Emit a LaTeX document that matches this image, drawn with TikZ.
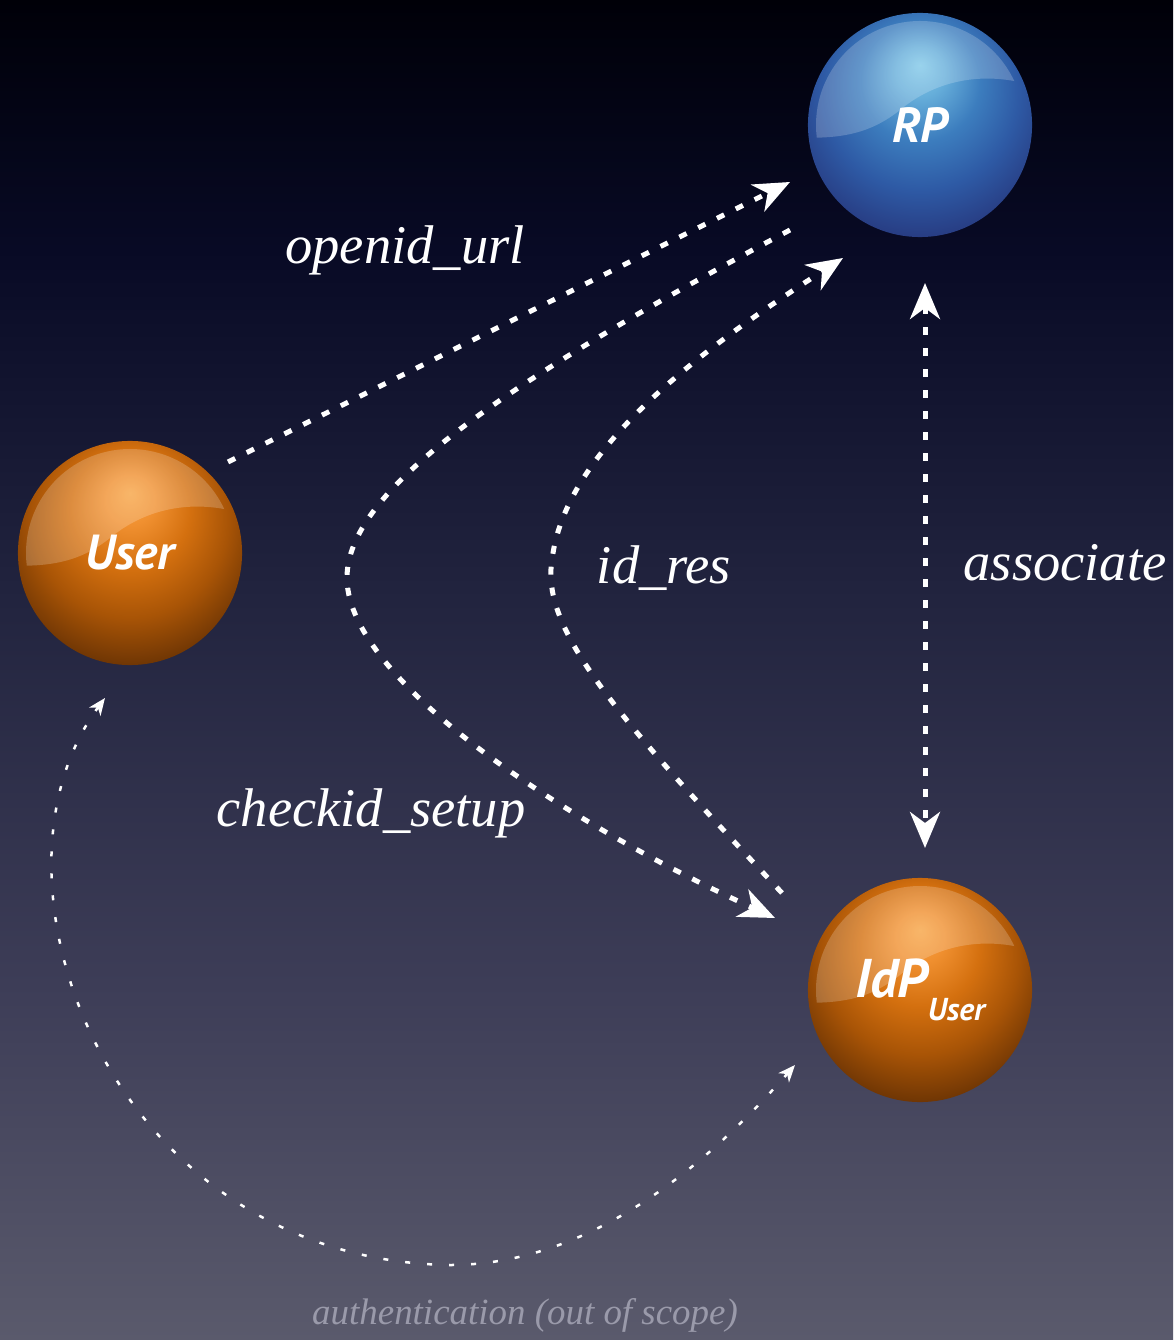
\documentclass[tikz,border=0pt]{standalone}
\usepackage{fontspec}
\usetikzlibrary{arrows.meta}
\newfontfamily\ballfont{PT Sans}
\newfontfamily\labelfont{Liberation Serif}

% Colours
\definecolor{bgA}{HTML}{000008}
\definecolor{bgB}{HTML}{080A25}
\definecolor{bgC}{HTML}{22243F}
\definecolor{bgD}{HTML}{3E3E58}
\definecolor{bgE}{HTML}{5A5A6C}
\definecolor{rpA}{HTML}{80C8E8}
\definecolor{rpB}{HTML}{66AEDA}
\definecolor{rpC}{HTML}{3C7DBE}
\definecolor{rpD}{HTML}{2E5AA5}
\definecolor{rpE}{HTML}{273A80}
\definecolor{rpF}{HTML}{1E2262}
\definecolor{orA}{HTML}{F7A444}
\definecolor{orB}{HTML}{F09030}
\definecolor{orC}{HTML}{D4700F}
\definecolor{orD}{HTML}{A85406}
\definecolor{orE}{HTML}{6A3304}
\definecolor{orF}{HTML}{2E1502}
\definecolor{authGray}{HTML}{9A9AAA}

% Background, dark navy at the top
\pgfdeclareverticalshading{sky}{100bp}{color(0bp)=(bgE); color(25bp)=(bgE); color(37.7bp)=(bgD); color(52.6bp)=(bgC); color(65.7bp)=(bgB); color(75bp)=(bgA); color(100bp)=(bgA)}

% Ball shadings, highlight near the top
\pgfdeclareradialshading{rpball}{\pgfpoint{0bp}{13.4bp}}{color(0bp)=(rpA); color(5.6bp)=(rpB); color(13.4bp)=(rpC); color(22bp)=(rpD); color(31bp)=(rpE); color(38bp)=(rpF); color(50bp)=(rpF)}
\pgfdeclareradialshading{orangeball}{\pgfpoint{0bp}{13.4bp}}{color(0bp)=(orA); color(5.6bp)=(orB); color(13.4bp)=(orC); color(22bp)=(orD); color(31bp)=(orE); color(38bp)=(orF); color(50bp)=(orF)}

\tikzset{
  ball/.style={circle, minimum size=2.24cm, inner sep=0pt, shade, text=white,
    font=\ballfont\bfseries\itshape\fontsize{14}{16}\selectfont},
  msg/.style={white, line width=0.05cm, dash pattern=on 0.08cm off 0.13cm,
    -{Stealth[length=0.36cm, width=0.30cm, inset=0.11cm]}},
  auth/.style={white, line width=0.025cm, dash pattern=on 0.05cm off 0.17cm,
    {Stealth[length=0.17cm, width=0.14cm, inset=0.05cm]}-{Stealth[length=0.17cm, width=0.14cm, inset=0.05cm]}},
  lbl/.style={text=white, font=\labelfont\itshape\fontsize{15.5}{18}\selectfont},
  authlbl/.style={text=authGray, font=\labelfont\itshape\fontsize{10.5}{12}\selectfont}
}

\begin{document}
\begin{tikzpicture}[x=0.01cm, y=-0.01cm]
  % Background
  \useasboundingbox (0,0) rectangle (1173,1340);
  \shade[shading=sky] (0,0) rectangle (1173,1340);

  % Place the balls
  \node[ball, shading=rpball] (RP) at (920,125) {RP};
  \node[ball, shading=orangeball] (User) at (130,553) {User};
  \node[ball, shading=orangeball] (IdP) at (920,990) {\fontsize{15.5}{17}\selectfont IdP\raisebox{-0.42em}{\fontsize{9}{11}\selectfont User}};

  % Gloss on the upper part of each ball
  \foreach \b in {RP, User, IdP} {
    \fill[white, opacity=0.2, shift={(\b.center)}] (173:104) arc[start angle=173, end angle=335, radius=104]
      .. controls (50,-52) and (10,-40) .. (-20,-15) .. controls (-45,5) and (-70,12) .. (173:104) -- cycle;
  }

  % Messages
  \draw[msg] ([shift={(98,-91)}]User.center) -- ([shift={(-130,57)}]RP.center);
  \draw[msg] ([shift={(-130,105)}]RP.center) .. controls (470,400) and (345,500) .. (347,580)
    .. controls (350,680) and (560,820) .. ([shift={(-145,-72)}]IdP.center);
  \draw[msg] ([shift={(-138,-97)}]IdP.center) .. controls (620,720) and (540,630) .. (552,560)
    .. controls (565,450) and (700,350) .. ([shift={(-77,133)}]RP.center);
  \draw[msg, {Stealth[length=0.36cm, width=0.30cm, inset=0.11cm]}-{Stealth[length=0.36cm, width=0.30cm, inset=0.11cm]}]
    ([shift={(5,158)}]RP.center) -- ([shift={(5,-142)}]IdP.center);

  % Authentication loop
  \draw[auth] ([shift={(-25,145)}]User.center) .. controls (-30,880) and (110,1260) .. (450,1265)
    .. controls (600,1265) and (720,1150) .. ([shift={(-125,75)}]IdP.center);

  % Labels
  \node[lbl] (openidLbl) at (405,250) {openid\_url};
  \node[lbl] (idresLbl) at (664,568) {id\_res};
  \node[lbl] (assocLbl) at (1065,563) {associate};
  \node[lbl] (checkidLbl) at (371,813) {checkid\_setup};
  \node[authlbl] (authLbl) at (525,1315) {authentication (out of scope)};
\end{tikzpicture}
\end{document}
